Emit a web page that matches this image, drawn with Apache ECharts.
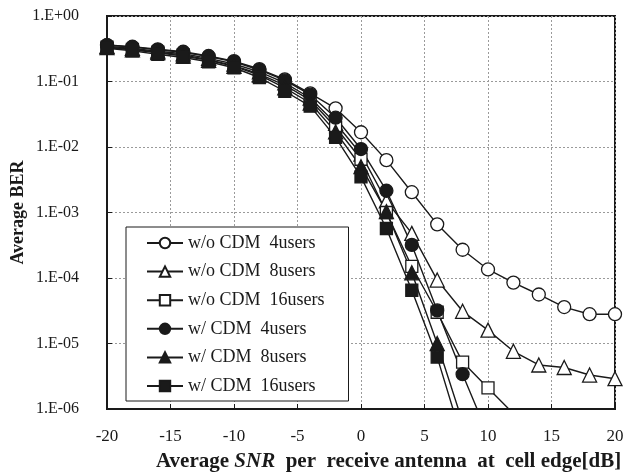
<!DOCTYPE html>
<html>
<head>
<meta charset="utf-8">
<script src="https://cdn.jsdelivr.net/npm/echarts@6/dist/echarts.min.js"></script>
<style>
html,body{margin:0;padding:0;background:#fff;}
#chart{width:628px;height:472px;}
</style>
</head>
<body>
<div id="chart"></div>
<script>
// SNR [dB] sample points
const snr = [-20,-18,-16,-14,-12,-10,-8,-6,-4,-2,0,2,4,6,8,10,12,14,16,18,20];

// Average BER values
const woCdm4 = [0.36,0.34,0.31,0.285,0.245,0.205,0.155,0.108,0.066,0.039,0.0168,0.0063,0.00204,6.6e-4,2.7e-4,1.35e-4,8.5e-5,5.6e-5,3.6e-5,2.8e-5,2.8e-5];
const woCdm8 = [0.345,0.32,0.29,0.265,0.225,0.185,0.14,0.095,0.056,0.023,0.0078,0.0015,4.8e-4,9.3e-5,3.1e-5,1.6e-5,7.6e-6,4.7e-6,4.3e-6,3.3e-6,2.9e-6];
const woCdm16 = [0.335,0.31,0.28,0.255,0.215,0.175,0.13,0.088,0.052,0.02,0.0065,0.001,1.5e-4,3e-5,5.2e-6,2.1e-6,8.5e-7];
const wCdm4 = [0.36,0.335,0.305,0.28,0.24,0.2,0.15,0.104,0.063,0.028,0.0093,0.00215,3.2e-4,3.2e-5,3.4e-6,4e-7];
const wCdm8 = [0.33,0.305,0.275,0.245,0.21,0.17,0.125,0.08,0.047,0.017,0.005,0.00103,1.2e-4,1e-5,6.3e-7];
const wCdm16 = [0.32,0.295,0.26,0.233,0.2,0.162,0.115,0.071,0.042,0.014,0.0035,5.7e-4,6.5e-5,6.2e-6,3.3e-7];

const seriesNames = ['w/o CDM  4users','w/o CDM  8users','w/o CDM  16users','w/ CDM  4users','w/ CDM  8users','w/ CDM  16users'];
const xTicks = [-20,-15,-10,-5,0,5,10,15,20];

const FONT = '"Liberation Serif", "Times New Roman", serif';
const INK = '#1a1a1a';

function pairs(arr){ return arr.map((v,i)=>[snr[i], v]); }

const specs = [
  {data: woCdm4, symbol:'circle', size:13, fill:'#fff'},
  {data: woCdm8, symbol:'triangle', size:14, fill:'#fff'},
  {data: woCdm16, symbol:'rect', size:12, fill:'#fff'},
  {data: wCdm4, symbol:'circle', size:13, fill:INK},
  {data: wCdm8, symbol:'triangle', size:14, fill:INK},
  {data: wCdm16, symbol:'rect', size:12, fill:INK}
];

const series = specs.map((s,k)=>({
  name: seriesNames[k],
  type: 'line',
  data: pairs(s.data),
  symbol: s.symbol,
  symbolSize: s.size,
  showAllSymbol: true,
  clip: true,
  lineStyle: {color: INK, width: 1.4},
  itemStyle: {color: s.fill, borderColor: INK, borderWidth: 1.3},
  emphasis: {disabled: true},
  animation: false
}));

function fmtExp(v){
  const e = Math.round(Math.log10(v));
  const sign = e < 0 ? '-' : '+';
  const a = Math.abs(e);
  return '1.E' + sign + (a < 10 ? '0' + a : '' + a);
}

const chart = echarts.init(document.getElementById('chart'));
chart.setOption({
  backgroundColor: '#fff',
  animation: false,
  textStyle: {fontFamily: FONT},
  title: {
    text: '{b|Average }{i|SNR}{b|  per  receive antenna  at  cell edge[dB]}',
    left: 156,
    top: 451,
    padding: 0,
    textStyle: {
      rich: {
        b: {fontFamily: FONT, fontWeight: 'bold', fontSize: 21, color: INK},
        i: {fontFamily: FONT, fontWeight: 'bold', fontStyle: 'italic', fontSize: 21, color: INK}
      }
    }
  },
  grid: {left: 107, right: 13, top: 16, bottom: 63, outerBoundsMode: 'none', containLabel: false,
    show: true, borderColor: INK, borderWidth: 2, backgroundColor: 'transparent'},
  legend: {
    orient: 'vertical',
    left: 126,
    top: 227,
    padding: [7, 24, 6, 20],
    itemGap: 10.6,
    itemWidth: 36,
    itemHeight: 13,
    backgroundColor: '#fff',
    borderColor: INK,
    borderWidth: 1,
    borderRadius: 0,
    textStyle: {fontFamily: FONT, fontSize: 18, color: INK},
    data: seriesNames
  },
  xAxis: {
    type: 'value',
    min: -20, max: 20, interval: 5,
    axisLine: {show: true, onZero: false, lineStyle: {color: INK, width: 2}},
    axisTick: {show: true, inside: true, length: 5, lineStyle: {color: INK, width: 1}},
    axisLabel: {fontFamily: FONT, fontSize: 17, color: INK, margin: 19,
      formatter: v => xTicks.includes(v) ? String(v) : ''},
    splitLine: {show: true, lineStyle: {color: '#9a9a9a', type: [2,2], width: 1}}
  },
  yAxis: {
    type: 'log',
    logBase: 10,
    min: 1e-6, max: 1,
    splitNumber: 6,
    name: 'Average BER',
    nameLocation: 'middle',
    nameRotate: 90,
    nameGap: 80,
    nameMoveOverlap: false,
    nameTextStyle: {fontFamily: FONT, fontWeight: 'bold', fontSize: 18, color: INK},
    axisLine: {show: true, onZero: false, lineStyle: {color: INK, width: 2}},
    axisTick: {show: true, inside: true, length: 5, lineStyle: {color: INK, width: 1}},
    minorTick: {show: false},
    axisLabel: {fontFamily: FONT, fontSize: 16, color: INK, margin: 28, formatter: fmtExp},
    splitLine: {show: true, lineStyle: {color: '#9a9a9a', type: [2,2], width: 1}}
  },
  series: series
});
</script>
</body>
</html>
